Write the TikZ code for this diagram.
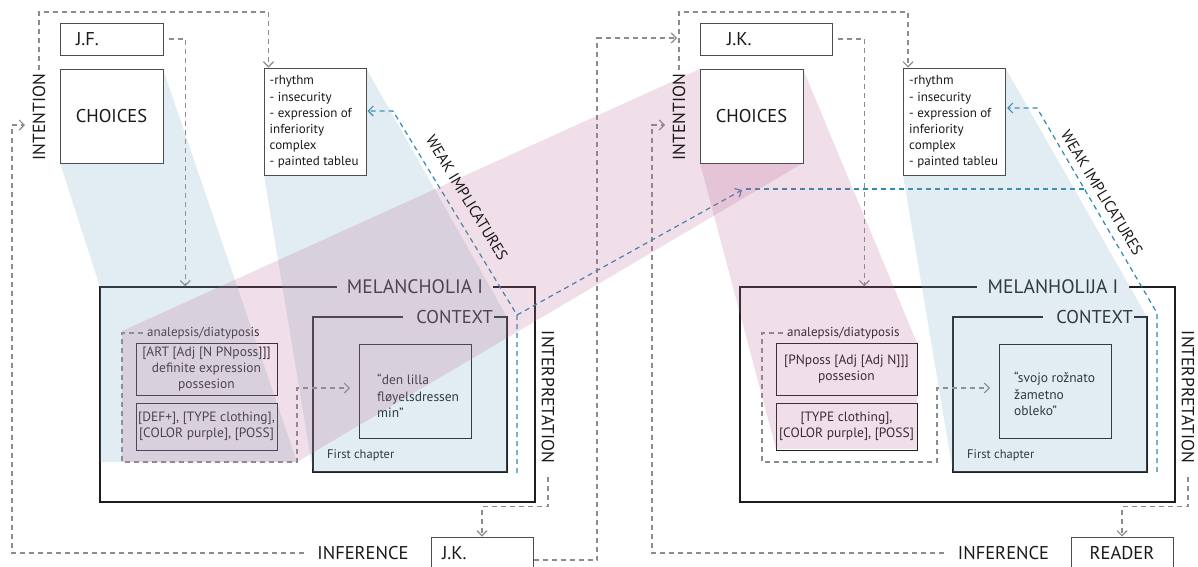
\documentclass[tikz,border=0pt]{standalone}
\usepackage{fontspec}
\setmainfont{PT Sans}
\usetikzlibrary{arrows.meta}
\pgfdeclarelayer{under}
\pgfdeclarelayer{bands}
\pgfsetlayers{under,bands,main}

\definecolor{ink}{HTML}{1A1A1A}
\definecolor{boxline}{HTML}{4D4D4D}
\definecolor{frameline}{HTML}{1E1E1E}
\definecolor{dashgray}{HTML}{8C8C8C}
\definecolor{implblue}{HTML}{2E8AB0}
\definecolor{bandblue}{RGB}{123,173,200}
\definecolor{bandpink}{RGB}{187,105,150}

\newcommand\fsBig{\fontsize{18.5}{22}\selectfont}
\newcommand\fsTitle{\fontsize{19.5}{23}\selectfont}
\newcommand\fsSide{\fontsize{17.5}{21}\selectfont}
\newcommand\fsWeak{\fontsize{15.5}{18}\selectfont}
\newcommand\fsList{\fontsize{13}{16.2}\selectfont}
\newcommand\fsBox{\fontsize{13.5}{16.3}\selectfont}
\newcommand\fsSmall{\fontsize{12.5}{15}\selectfont}

\tikzset{
  whitebox/.style={draw=boxline, fill=white, line width=1pt, inner sep=0pt, text=ink},
  outerframe/.style={draw=frameline, line width=1.4pt, inner sep=0pt},
  ctxframe/.style={draw=frameline, line width=1.1pt, inner sep=0pt},
  innerbox/.style={draw=frameline, line width=1pt, inner sep=0pt, align=center, font=\fsBox, text=ink},
  boxtitle/.style={fill=white, inner ysep=1pt, text=ink},
  plaintext/.style={text=ink},
  listtext/.style={text=ink, anchor=north west, align=left, inner sep=0pt, font=\fsList},
  quotetext/.style={text=ink, anchor=west, align=left, inner sep=0pt, font=\fsBox},
  conn/.style={draw=dashgray, line width=1.2pt, dash pattern=on 5pt off 4pt},
  impl/.style={draw=implblue, line width=1.2pt, dash pattern=on 5pt off 4pt},
  tip/.style={-{Straight Barb[length=5pt,width=10pt]}},
  blueband/.style={fill=bandblue, fill opacity=0.22},
  pinkband/.style={fill=bandpink, fill opacity=0.22},
}

\begin{document}
\begin{tikzpicture}[x=1pt,y=-1pt]
\useasboundingbox (0,0) rectangle (1198,566);

% ---------- text frames (lying under the translucent bands)
\begin{pgfonlayer}{under}
  % source text
  \node[outerframe, minimum width=435pt, minimum height=215pt] (melL) at (317.5,394.5) {};
  \node[boxtitle, inner xsep=10pt, font=\fsTitle] (melLt) at (415,287) {MELANCHOLIA I};
  \node[ctxframe, minimum width=194pt, minimum height=155pt] (ctxL) at (410,394.5) {};
  \node[boxtitle, inner xsep=1pt, anchor=east, font=\fsBig] (ctxLt) at (494,317) {\hspace*{12pt}CONTEXT};
  \node[innerbox, minimum width=112pt, minimum height=94pt] (denL) at (415,391) {};
  \node[quotetext] (denLtxt) at (377,396) {“den lilla\\fløyelsdressen\\min”};
  \node[plaintext, anchor=west, inner sep=0pt, font=\fsSmall] (fcL) at (327,455) {First chapter};
  \node[plaintext, anchor=west, inner xsep=4pt, inner ysep=0pt, font=\fsList] (anaL) at (143,333) {analepsis/diatyposis};
  \node[innerbox, minimum width=141pt, minimum height=52pt] (b1L) at (206.5,369)
       {{[}ART [Adj [N PNposs]]]\\definite expression\\possesion};
  \node[innerbox, minimum width=141pt, minimum height=47pt] (b2L) at (206.5,426.5)
       {{[}DEF+], [TYPE clothing],\\{[}COLOR purple], [POSS]};

  % target text
  \node[outerframe, minimum width=435pt, minimum height=215pt] (melR) at (957.5,394.5) {};
  \node[boxtitle, inner xsep=11pt, font=\fsTitle] (melRt) at (1053,287) {MELANHOLIJA I};
  \node[ctxframe, minimum width=194pt, minimum height=155pt] (ctxR) at (1050,394.5) {};
  \node[boxtitle, inner xsep=1pt, anchor=east, font=\fsBig] (ctxRt) at (1134,317) {\hspace*{12pt}CONTEXT};
  \node[innerbox, minimum width=112pt, minimum height=94pt] (denR) at (1055,391) {};
  \node[quotetext] (denRtxt) at (1014,394) {“svojo rožnato\\žametno\\obleko”};
  \node[plaintext, anchor=west, inner sep=0pt, font=\fsSmall] (fcR) at (967,455) {First chapter};
  \node[plaintext, anchor=west, inner xsep=4pt, inner ysep=0pt, font=\fsList] (anaR) at (783,333) {analepsis/diatyposis};
  \node[innerbox, minimum width=141pt, minimum height=52pt] (b1R) at (846.5,369)
       {{[}PNposs [Adj [Adj N]]]\\possesion};
  \node[innerbox, minimum width=141pt, minimum height=47pt] (b2R) at (846.5,426.5)
       {{[}TYPE clothing],\\{[}COLOR purple], [POSS]};
\end{pgfonlayer}

% ---------- author side
\node[whitebox, minimum width=103pt, minimum height=32pt, text width=71pt, inner xsep=16pt,
      align=left, font=\fsBig] (jf) at (111.5,39) {J.F.};
\node[whitebox, minimum width=103pt, minimum height=94pt, font=\fsBig] (chL) at (111.5,116) {CHOICES};
\node[whitebox, minimum width=102pt, minimum height=107pt] (rhL) at (315,121.5) {};
\node[listtext] (rhLtxt) at ([xshift=6pt,yshift=-8pt]rhL.north west)
     {-rhythm\\- insecurity\\- expression of\\inferiority\\complex\\- painted tableu};
\node[plaintext, rotate=90, font=\fsSide] (intL) at (39,117) {INTENTION};
\node[plaintext, rotate=-58.7, font=\fsWeak] (wkL) at (467,198) {WEAK IMPLICATURES};
\node[plaintext, rotate=-90, font=\fsSide] (intpL) at (548,397) {INTERPRETATION};
\node[plaintext, font=\fsBig] (infL) at (363,553) {INFERENCE};
\node[draw=boxline, line width=1pt, minimum width=102pt, minimum height=32pt, text width=80pt,
      inner xsep=11pt, align=left, text=ink, font=\fsBig] (jkB) at (482,553) {J.K.};

% ---------- translator side
\node[whitebox, minimum width=132pt, minimum height=32pt, text width=78pt, inner xsep=27pt,
      align=left, font=\fsBig] (jkT) at (766,39) {J.K.};
\node[whitebox, minimum width=103pt, minimum height=94pt, font=\fsBig] (chR) at (751.5,116) {CHOICES};
\node[whitebox, minimum width=102pt, minimum height=107pt] (rhR) at (954.5,121.5) {};
\node[listtext] (rhRtxt) at ([xshift=6pt,yshift=-8pt]rhR.north west)
     {-rhythm\\- insecurity\\- expression of\\inferiority\\complex\\- painted tableu};
\node[plaintext, rotate=90, font=\fsSide] (intR) at (679,117) {INTENTION};
\node[plaintext, rotate=-58.7, font=\fsWeak] (wkR) at (1102,193) {WEAK IMPLICATURES};
\node[plaintext, rotate=-90, font=\fsSide] (intpR) at (1188,397) {INTERPRETATION};
\node[plaintext, font=\fsBig] (infR) at (1003.5,553) {INFERENCE};
\node[draw=boxline, line width=1pt, minimum width=102pt, minimum height=32pt, text=ink,
      font=\fsBig] (readR) at (1122,553) {READER};

% ---------- bend points of the connectors
\coordinate (topL) at (39,12);
\coordinate (topR) at (679,12);
\coordinate (loopL) at (12,125);
\coordinate (inL) at (25,125);
\coordinate (loopR) at (652,125);
\coordinate (inR) at (665,125);
\coordinate (upR) at (597,38);
\coordinate (inTop) at (677,38);
\coordinate (bkL) at (122,462);
\coordinate (bkLr) at (297,388);
\coordinate (arrDenL) at (350,388);
\coordinate (bkR) at (762,462);
\coordinate (bkRr) at (937,388);
\coordinate (arrDenR) at (990,388);
\coordinate (wL0) at (517,473);
\coordinate (wL1) at (517,315);
\coordinate (wL2) at (393,111);
\coordinate (crossTip) at (742,190);
\coordinate (wR0) at (1157,472);
\coordinate (wR1) at (1157,313);
\coordinate (wR2) at (1037,108);
\coordinate (wRmid) at (1084.4,189);
\coordinate (crossEnd) at (746,189);

\begin{pgfonlayer}{under}
  % analepsis brackets
  \draw[conn,tip] (anaL.west) -| (bkL) -| (bkLr) -- (arrDenL);
  \draw[conn,tip] (anaR.west) -| (bkR) -| (bkRr) -- (arrDenR);
  % intention links
  \draw[conn,tip] (intL.east) |- (topL) -| ([xshift=5pt]rhL.north west);
  \draw[conn,tip] (intR.east) |- (topR) -| ([xshift=5pt]rhR.north west);
  \draw[conn,tip] ([xshift=5pt]jf.east) -| ([xshift=86pt]melL.north west);
  \draw[conn,tip] ([xshift=5pt]jkT.east) -| ([xshift=125pt]melR.north west);
  % inference loops
  \draw[conn,tip] ([xshift=-10pt]infL.west) -| (loopL) -- (inL);
  \draw[conn,tip] ([xshift=-10pt]infR.west) -| (loopR) -- (inR);
  % interpretation links
  \draw[conn,tip] ([yshift=-10pt]intpL.east) -- ++(0,30) -| (jkB.north);
  \draw[conn,tip] ([yshift=-10pt]intpR.east) -- ++(0,30) -| (readR.north);
  \draw[conn,tip] ([yshift=-7pt]jkB.east) -| (upR) -- (inTop);
  % weak implicatures
  \draw[impl,tip] (wL0) -- (wL1) -- (wL2) -- ([xshift=1pt,yshift=10.5pt]rhL.east);
  \draw[impl,tip] (wL1) -- (crossTip);
  \draw[impl,tip] (wR0) -- (wR1) -- (wR2) -- ([xshift=1pt,yshift=13.5pt]rhR.east);
  \draw[impl] (wRmid) -- (crossEnd);
\end{pgfonlayer}

% ---------- translucent projection bands
\begin{pgfonlayer}{bands}
  \fill[blueband] (163,69) -- (60,163) -- (100,287) -- (100,462) -- (297,462) -- cycle;
  \fill[blueband] (264,175) -- (313,472) -- (507,472) -- (507,317) -- (366,68) -- cycle;
  \fill[pinkband] (122,331) -- (700,69) -- (803,163) -- (297,462) -- (122,462) -- cycle;
  \fill[pinkband] (700,163) -- (776,449) -- (917,449) -- (917,343) -- (803,69) -- cycle;
  \fill[blueband] (903,175) -- (953,472) -- (1147,472) -- (1147,317) -- (1006,69) -- cycle;
\end{pgfonlayer}
\end{tikzpicture}
\end{document}
